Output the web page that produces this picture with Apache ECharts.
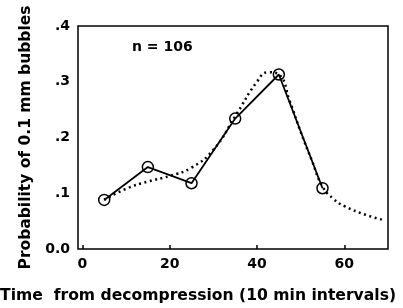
<!DOCTYPE html>
<html>
<head>
<meta charset="utf-8">
<script src="https://cdn.jsdelivr.net/npm/echarts@6/dist/echarts.min.js"></script>
<style>
  html, body { margin: 0; padding: 0; background: #fff; }
  #chart { width: 403px; height: 308px; }
</style>
</head>
<body>
<div id="chart"></div>
<script>
  // observed probabilities (circles)
  var obsX = [5, 15, 25, 35, 45, 55];
  var obsY = [0.088, 0.147, 0.118, 0.234, 0.313, 0.109];
  // fitted curve (dotted)
  var fitX = [5, 10, 15, 20, 25, 30, 35, 40, 42.5, 45, 47.5, 50, 52.5, 55, 57.5, 60, 65, 69];
  var fitY = [0.088, 0.108, 0.121, 0.131, 0.146, 0.178, 0.238, 0.300, 0.317, 0.313, 0.265, 0.210, 0.160, 0.112, 0.090, 0.077, 0.061, 0.052];
  var xTicks = [0, 20, 40, 60];
  var nLabel = 'n = 106';

  var obs = obsX.map(function (x, i) { return [x, obsY[i]]; });
  var fit = fitX.map(function (x, i) { return [x, fitY[i]]; });

  var font = 'DejaVu Sans';
  var myChart = echarts.init(document.getElementById('chart'));
  myChart.setOption({
    animation: false,
    grid: {
      left: 78, right: 15, top: 26, bottom: 59,
      show: true, borderColor: '#000', borderWidth: 1.5
    },
    xAxis: {
      type: 'value', min: -1, max: 70,
      splitLine: { show: false },
      axisLine: { show: false },
      axisTick: { show: true, inside: true, length: 4, customValues: xTicks, lineStyle: { color: '#000', width: 1.5 } },
      axisLabel: {
        customValues: xTicks, margin: 8,
        color: '#000', fontFamily: font, fontWeight: 'bold', fontSize: 14
      }
    },
    yAxis: {
      type: 'value', min: 0, max: 0.4, interval: 0.1,
      splitLine: { show: false },
      axisLine: { show: false },
      axisTick: { show: false },
      axisLabel: {
        margin: 8, color: '#000', fontFamily: font, fontWeight: 'bold', fontSize: 14,
        formatter: function (v) { return v === 0 ? '0.0' : ('' + v.toFixed(1)).replace('0.', '.'); }
      },
      name: 'Probability of 0.1 mm bubbles',
      nameLocation: 'middle', nameGap: 38, nameRotate: 90,
      nameTextStyle: { color: '#000', fontFamily: font, fontWeight: 'bold', fontSize: 15.5 }
    },
    graphic: [
      { type: 'text', left: 0, top: 288, style: { text: 'Time  from decompression (10 min intervals)', fill: '#000', font: 'bold 15.6px "DejaVu Sans"' } },
      { type: 'text', left: 132, top: 40, style: { text: nLabel, fill: '#000', font: 'bold 14px "DejaVu Sans"' } }
    ],
    series: [
      {
        type: 'line', data: fit, smooth: true, symbol: 'none',
        lineStyle: { color: '#000', width: 2.5, type: [2, 3.5] }, z: 1
      },
      {
        type: 'line', data: obs, symbol: 'circle', symbolSize: 11,
        itemStyle: { color: 'rgba(255,255,255,0)', borderColor: '#000', borderWidth: 1.5 },
        lineStyle: { color: '#000', width: 1.8 }, z: 2
      }
    ]
  });
</script>
</body>
</html>
